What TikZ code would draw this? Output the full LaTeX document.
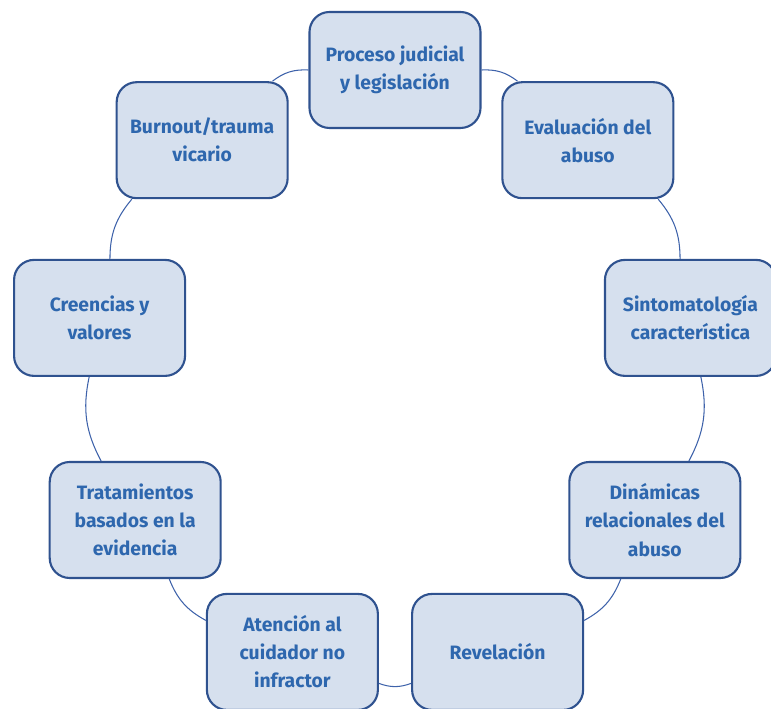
\documentclass[tikz,border=0pt]{standalone}
\usepackage{fontspec}
\setmainfont{Fira Sans}
\usetikzlibrary{positioning, calc}

\definecolor{cajaborde}{HTML}{2F528F}
\definecolor{cajafondo}{HTML}{D6E0EE}
\definecolor{textoazul}{HTML}{2E67AE}
\definecolor{lineaazul}{HTML}{3E62AA}

\begin{document}
\begin{tikzpicture}[
    caja/.style={draw=cajaborde, fill=cajafondo, line width=1.2pt, rounded corners=0.4cm,
        minimum width=3.42cm, minimum height=2.32cm, align=center, text=textoazul,
        font=\bfseries\fontsize{11}{16}\selectfont},
    enlace/.style={draw=lineaazul, line width=0.6pt}
]

    % Marco del dibujo
    \useasboundingbox (0,0) rectangle (15.42,14.18);
    \coordinate (centro) at (7.9,6.78);

    % Cajas del ciclo (radio 6cm, cada 40 grados)
    \node[caja] (proceso)     at ($(centro)+(90:6)$)   {Proceso judicial\\y legislación};
    \node[caja] (evaluacion)  at ($(centro)+(50:6)$)   {Evaluación del\\abuso};
    \node[caja] (sintomas)    at ($(centro)+(10:6)$)   {Sintomatología\\característica};
    \node[caja] (dinamicas)   at ($(centro)+(-30:6)$)  {Dinámicas\\relacionales del\\abuso};
    \node[caja] (revelacion)  at ($(centro)+(-70:6)$)  {Revelación};
    \node[caja] (atencion)    at ($(centro)+(-110:6)$) {Atención al\\cuidador no\\infractor};
    \node[caja] (tratamiento) at ($(centro)+(-150:6)$) {Tratamientos\\basados en la\\evidencia};
    \node[caja] (creencias)   at ($(centro)+(170:6)$)  {Creencias y\\valores};
    \node[caja] (burnout)     at ($(centro)+(130:6)$)  {Burnout/trauma\\vicario};

    % Arcos entre cajas vecinas
    \draw[enlace] (proceso) to[bend left=20] (evaluacion);
    \draw[enlace] (evaluacion) to[bend left=20] (sintomas);
    \draw[enlace] (sintomas) to[bend left=20] (dinamicas);
    \draw[enlace] (dinamicas) to[bend left=20] (revelacion);
    \draw[enlace] (revelacion) to[bend left=20] (atencion);
    \draw[enlace] (atencion) to[bend left=20] (tratamiento);
    \draw[enlace] (tratamiento) to[bend left=20] (creencias);
    \draw[enlace] (creencias) to[bend left=20] (burnout);
    \draw[enlace] (burnout) to[bend left=20] (proceso);

\end{tikzpicture}
\end{document}
